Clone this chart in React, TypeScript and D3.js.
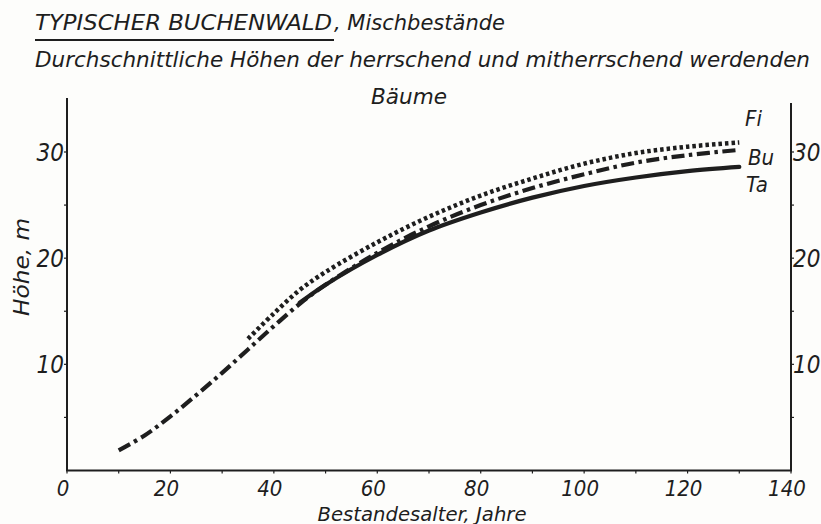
import React from "react";
import * as d3 from "d3";

const W = 821;
const H = 524;

const fiAges = [35, 40, 45, 50, 60, 70, 80, 90, 100, 110, 120, 130];
const fiHeights = [12.4, 14.8, 17.0, 18.7, 21.5, 23.9, 25.9, 27.5, 28.9, 29.9, 30.5, 30.9];

const buAges = [10, 15, 20, 25, 30, 35, 40, 45, 50, 60, 70, 80, 90, 100, 110, 120, 130];
const buHeights = [1.9, 3.3, 5.1, 7.1, 9.2, 11.4, 13.6, 15.7, 17.5, 20.5, 23.0, 25.0, 26.6, 27.9, 29.0, 29.7, 30.2];

const taAges = [45, 50, 60, 70, 80, 90, 100, 110, 120, 130];
const taHeights = [15.8, 17.5, 20.3, 22.6, 24.3, 25.7, 26.8, 27.6, 28.2, 28.6];

const xTicks = [0, 20, 40, 60, 80, 100, 120, 140];
const xMinor = [10, 30, 50, 70, 90, 110, 130];
const yTicks = [10, 20, 30];
const yMinor = [5, 15, 25];

const seriesLabels = ["Fi", "Bu", "Ta"];

const FONT = "'DejaVu Sans Condensed', 'DejaVu Sans', 'Liberation Sans', sans-serif";
const INK = "#1e1e1e";

export default function App() {
  const x = d3.scaleLinear().domain([0, 140]).range([67, 791]);
  const y = d3.scaleLinear().domain([0, 30]).range([470.5, 152]);

  const line = d3
    .line<[number, number]>()
    .x((d) => x(d[0]))
    .y((d) => y(d[1]))
    .curve(d3.curveCatmullRom.alpha(0.5));

  const fi = line(fiAges.map((a, i) => [a, fiHeights[i]] as [number, number])) || "";
  const bu = line(buAges.map((a, i) => [a, buHeights[i]] as [number, number])) || "";
  const ta = line(taAges.map((a, i) => [a, taHeights[i]] as [number, number])) || "";

  const x0 = x(0);
  const x1 = x(140);
  const yb = y(0);
  const labelPos = [
    { t: seriesLabels[0], x: 745, y: 126 },
    { t: seriesLabels[1], x: 748, y: 165 },
    { t: seriesLabels[2], x: 746, y: 192 },
  ];

  return (
    <svg
      width={W}
      height={H}
      style={{ position: "absolute", left: 0, top: 0, background: "#fdfdfb", fontStretch: "condensed" }}
      fontFamily={FONT}
      fontStyle="italic"
      fill={INK}
    >
      {/* Titles */}
      <text x={35} y={30} fontSize={22} textLength={297} lengthAdjust="spacingAndGlyphs">
        TYPISCHER  BUCHENWALD
      </text>
      <text x={334} y={30} fontSize={22} textLength={171} lengthAdjust="spacingAndGlyphs">
        , Mischbestände
      </text>
      <line x1={35} x2={334} y1={40} y2={40} stroke={INK} strokeWidth={2} />
      <text x={35} y={67} fontSize={22} textLength={775} lengthAdjust="spacingAndGlyphs">
        Durchschnittliche  Höhen der herrschend und mitherrschend  werdenden
      </text>
      <text x={409} y={104} fontSize={22} textAnchor="middle" textLength={76} lengthAdjust="spacingAndGlyphs">
        Bäume
      </text>

      {/* Axes */}
      <line x1={x0} x2={x0} y1={98} y2={yb} stroke={INK} strokeWidth={2} />
      <line x1={x1} x2={x1} y1={103} y2={yb} stroke={INK} strokeWidth={2} />
      <line x1={x0 - 1} x2={x1 + 1} y1={yb} y2={yb} stroke={INK} strokeWidth={2} />

      {xTicks.concat(xMinor).map((t) => (
        <line key={"xt" + t} x1={x(t)} x2={x(t)} y1={yb} y2={yb + 3} stroke={INK} strokeWidth={1.2} />
      ))}
      {yTicks.concat(yMinor).map((t) => (
        <g key={"yt" + t}>
          <line x1={x0 - 3} x2={x0} y1={y(t)} y2={y(t)} stroke={INK} strokeWidth={1.2} />
          <line x1={x1} x2={x1 + 3} y1={y(t)} y2={y(t)} stroke={INK} strokeWidth={1.2} />
        </g>
      ))}

      {xTicks.map((t) => (
        <text key={"xl" + t} x={x(t) - 4} y={496} fontSize={22} textAnchor="middle">
          {t}
        </text>
      ))}
      {yTicks.map((t) => (
        <text key={"yl" + t} x={x0 - 3} y={y(t) + 9} fontSize={24} textAnchor="end">
          {t}
        </text>
      ))}
      {yTicks.map((t) => (
        <text key={"yr" + t} x={x1 + 2} y={y(t) + 9} fontSize={24} textAnchor="start">
          {t}
        </text>
      ))}

      <text x={422} y={521} fontSize={19} textAnchor="middle" textLength={209} lengthAdjust="spacingAndGlyphs">
        Bestandesalter, Jahre
      </text>
      <text
        transform="translate(29,267) rotate(-90)"
        fontSize={22}
        textAnchor="middle"
        textLength={98}
        lengthAdjust="spacingAndGlyphs"
      >
        Höhe, m
      </text>

      {/* Curves */}
      <path d={ta} fill="none" stroke={INK} strokeWidth={4.2} strokeLinecap="round" />
      <path d={bu} fill="none" stroke={INK} strokeWidth={4.2} strokeDasharray="13 4.5 3.5 4.5" />
      <path d={fi} fill="none" stroke={INK} strokeWidth={4.5} strokeDasharray="3.5 3" />

      {labelPos.map((l) => (
        <text key={l.t} x={l.x} y={l.y} fontSize={22}>
          {l.t}
        </text>
      ))}
    </svg>
  );
}
